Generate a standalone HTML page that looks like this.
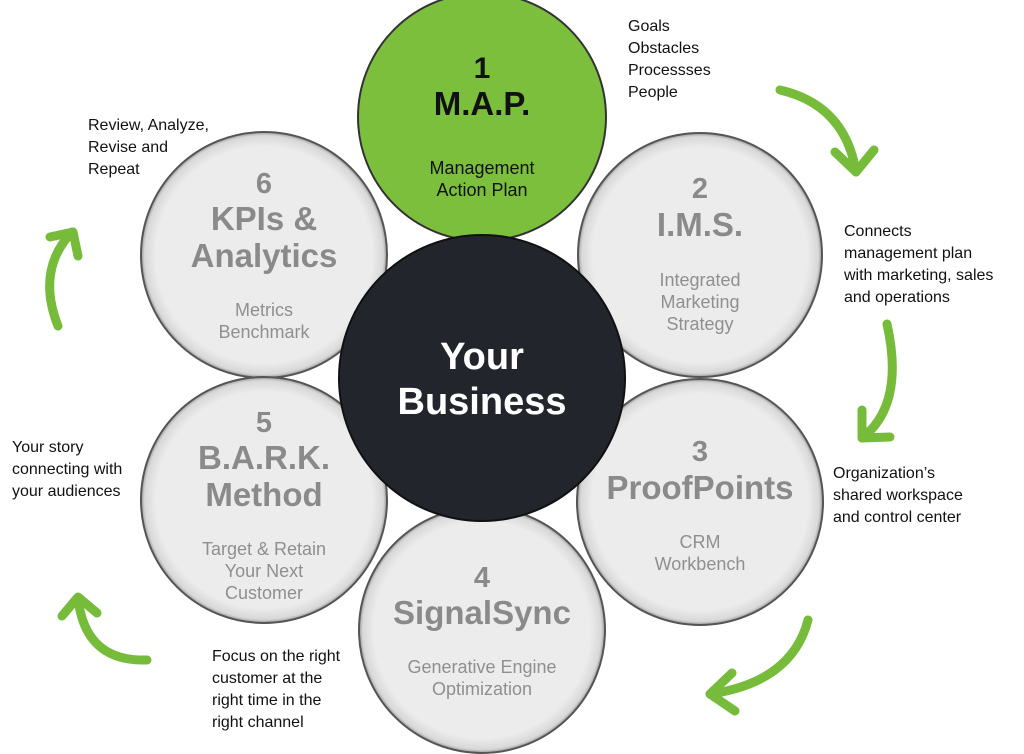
<!DOCTYPE html>
<html><head><meta charset="utf-8"><style>
body{margin:0;width:1024px;height:754px;background:#fff;overflow:hidden;font-family:"Liberation Sans",sans-serif}
svg{position:absolute;left:0;top:0}
</style></head><body>
<svg width="1024" height="754" viewBox="0 0 1024 754">
<defs>
<radialGradient id="g" cx="50%" cy="50%" r="50%">
<stop offset="0.88" stop-color="#ececec"/><stop offset="0.97" stop-color="#d8d8d8"/><stop offset="1" stop-color="#9a9a9a"/>
</radialGradient>
</defs>
<g stroke="#555" stroke-width="2">
<circle cx="264" cy="255" r="123" fill="url(#g)"/>
<circle cx="264" cy="500" r="123" fill="url(#g)"/>
<circle cx="700" cy="255" r="122" fill="url(#g)"/>
<circle cx="700" cy="502" r="123" fill="url(#g)"/>
<circle cx="482" cy="630" r="123" fill="url(#g)"/>
<circle cx="482" cy="117" r="124" fill="#7bbf3c" stroke="#333"/>
<circle cx="482" cy="378" r="143" fill="#22252b" stroke="#111"/>
</g>
<g font-family="Liberation Sans, sans-serif" text-anchor="middle" font-weight="bold" fill="#8a8a8a">
<text x="482" y="78" font-size="30" fill="#111">1</text>
<text x="482" y="115" font-size="33" fill="#111">M.A.P.</text>
<text x="264" y="193" font-size="29">6</text>
<text x="264" y="230" font-size="33">KPIs &amp;</text>
<text x="264" y="267" font-size="33">Analytics</text>
<text x="700" y="198" font-size="29">2</text>
<text x="700" y="236" font-size="33">I.M.S.</text>
<text x="700" y="461" font-size="29">3</text>
<text x="700" y="499" font-size="33">ProofPoints</text>
<text x="482" y="587" font-size="29">4</text>
<text x="482" y="624" font-size="33">SignalSync</text>
<text x="264" y="432" font-size="29">5</text>
<text x="264" y="469" font-size="33">B.A.R.K.</text>
<text x="264" y="506" font-size="33">Method</text>
<text x="482" y="369" font-size="38" fill="#fff">Your</text>
<text x="482" y="414" font-size="38" fill="#fff">Business</text>
</g>
<g font-family="Liberation Sans, sans-serif" text-anchor="middle" font-size="18" fill="#8f8f8f">
<text x="482" y="174" fill="#111">Management</text>
<text x="482" y="196" fill="#111">Action Plan</text>
<text x="264" y="316">Metrics</text>
<text x="264" y="338">Benchmark</text>
<text x="700" y="286">Integrated</text>
<text x="700" y="308">Marketing</text>
<text x="700" y="330">Strategy</text>
<text x="700" y="548">CRM</text>
<text x="700" y="570">Workbench</text>
<text x="482" y="673">Generative Engine</text>
<text x="482" y="695">Optimization</text>
<text x="264" y="555">Target &amp; Retain</text>
<text x="264" y="577">Your Next</text>
<text x="264" y="599">Customer</text>
</g>
<g font-family="Liberation Sans, sans-serif" font-size="16" fill="#111">
<text x="628" y="31">Goals</text><text x="628" y="53">Obstacles</text><text x="628" y="75">Processses</text><text x="628" y="97">People</text>
<text x="88" y="130">Review, Analyze,</text><text x="88" y="152">Revise and</text><text x="88" y="174">Repeat</text>
<text x="844" y="236">Connects</text><text x="844" y="258">management plan</text><text x="844" y="280">with marketing, sales</text><text x="844" y="302">and operations</text>
<text x="833" y="478">Organization’s</text><text x="833" y="500">shared workspace</text><text x="833" y="522">and control center</text>
<text x="12" y="452">Your story</text><text x="12" y="474">connecting with</text><text x="12" y="496">your audiences</text>
<text x="212" y="661">Focus on the right</text><text x="212" y="683">customer at the</text><text x="212" y="705">right time in the</text><text x="212" y="727">right channel</text>
</g>
<g fill="none" stroke="#76bc3a" stroke-width="9" stroke-linecap="round" stroke-linejoin="round">
<path d="M780,90 Q845,105 856,172"/><path d="M835,152 L856,172 L874,150"/>
<path d="M887,324 Q905,405 862,438"/><path d="M862,410 L862,438 L890,437"/>
<path d="M808,620 Q792,682 710,694"/><path d="M732,673 L710,694 L735,711"/>
<path d="M147,660 Q85,662 78,598"/><path d="M62,616 L78,597 L97,613"/>
<path d="M58,326 Q36,270 72,232"/><path d="M50,237 L73,232 L78,256"/>
</g>
</svg>
</body></html>
